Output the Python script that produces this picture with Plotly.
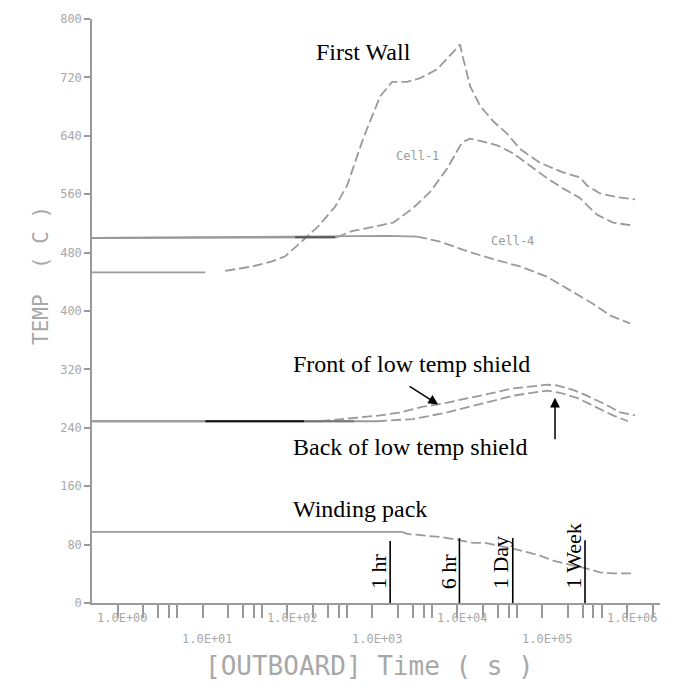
import math
import plotly.graph_objects as go

# ---------------- data ----------------
time_first_wall = [0.5, 10.8, 18.5, 38.5, 66, 94, 134, 230, 364, 504, 777, 1232, 1706, 2560,
                   3640, 5770, 10760, 11360, 14100, 18500, 26300, 38400, 54600, 94000,
                   175000, 277000, 335000, 477000, 757000, 1233000]
temp_first_wall = [453, 453, 455, 461, 468, 475, 491, 516, 543, 572, 636, 694, 714, 714,
                   719, 731, 765, 752, 708, 681, 660, 643, 622, 603,
                   590, 583, 572, 561, 556, 553]

time_cell1 = [0.5, 380, 560, 1754, 3010, 4770, 7560, 11360, 14100, 18500, 29300, 45200,
              71600, 113500, 175000, 277000, 335000, 440000, 679000, 1167000]
temp_cell1 = [500, 501, 509, 521, 541, 563, 595, 631, 636, 633, 627, 616,
              599, 582, 568, 555, 545, 532, 521, 517]

time_cell4 = [0.5, 500, 1500, 3360, 6250, 13000, 26300, 54700, 113500, 229600, 394000,
              625000, 1076000]
temp_cell4 = [500, 502, 503, 502, 495, 482, 471, 461, 447, 426, 410, 394, 383]

time_front_shield = [0.5, 243, 609, 1232, 2120, 3950, 5930, 11700, 22300, 45200, 86600,
                     113500, 149000, 229600, 335000, 577000, 820000, 1233000]
temp_front_shield = [249, 249, 254, 257, 261, 269, 272, 279, 286, 294, 298,
                     299, 298, 292, 284, 271, 261, 257]

time_back_shield = [0.5, 1135, 3010, 7560, 18500, 45200, 113500, 161000, 256000, 440000,
                    679000, 1019000]
temp_back_shield = [249, 249, 252, 261, 272, 284, 291, 288, 281, 268, 257, 249]

time_winding = [0.5, 2230, 2560, 4400, 6250, 9900, 15300, 21200, 50400, 94000, 134000,
                335000, 477000, 679000, 1167000]
temp_winding = [97.5, 97.5, 94.7, 92, 90.6, 86.6, 82.5, 82.5, 73, 65, 58, 47, 42, 40.6, 40.6]

# darker stretches where several curves overlap in the reference
overlap_times = [[10.8, 157], [157, 609], [123, 364]]
overlap_temps = [249, 249, 501]
overlap_colors = ["#111111", "#777777", "#555555"]

marker_labels = ["1 hr", "6 hr", "1 Day", "1 Week"]
marker_times = [1616, 10570, 44860, 318000]      # where the marker lines are drawn
marker_tops = [85, 89, 89, 86]

y_ticks = [0, 80, 160, 240, 320, 400, 480, 560, 640, 720, 800]
x_decades = [0, 1, 2, 3, 4, 5, 6]
x_tick_labels = ["1.0E+00", "1.0E+01", "1.0E+02", "1.0E+03", "1.0E+04", "1.0E+05", "1.0E+06"]
x_minor_mult = [1, 2, 3, 4, 5]

# ---------------- styling ----------------
GRAY = "#9a9a9a"
LIGHT = "#a8a8a8"
SERIF = "Liberation Serif, Times New Roman, serif"
MONO = "DejaVu Sans Mono, monospace"
DASH = "10px,4px"

fig = go.Figure()

# (name, t, T, last index of solid part, first index of dashed part)
series = [
    ("First Wall", time_first_wall, temp_first_wall, 1, 2),
    ("Cell-1", time_cell1, temp_cell1, 1, 1),
    ("Cell-4", time_cell4, temp_cell4, 3, 3),
    ("Front of low temp shield", time_front_shield, temp_front_shield, 1, 1),
    ("Back of low temp shield", time_back_shield, temp_back_shield, 1, 1),
    ("Winding pack", time_winding, temp_winding, 1, 1),
]
for name, t, T, solid_end, dash_start in series:
    fig.add_trace(go.Scatter(x=t[:solid_end + 1], y=T[:solid_end + 1], mode="lines",
                             line=dict(color=GRAY, width=1.8), name=name,
                             showlegend=False, hoverinfo="skip"))
    fig.add_trace(go.Scatter(x=t[dash_start:], y=T[dash_start:], mode="lines",
                             line=dict(color=GRAY, width=1.8, dash=DASH), name=name,
                             showlegend=False))

for ts, tv, col in zip(overlap_times, overlap_temps, overlap_colors):
    fig.add_trace(go.Scatter(x=ts, y=[tv, tv], mode="lines", line=dict(color=col, width=2),
                             showlegend=False, hoverinfo="skip"))

# time marker lines
for lab, tm, top in zip(marker_labels, marker_times, marker_tops):
    fig.add_trace(go.Scatter(x=[tm, tm], y=[0, top], mode="lines",
                             line=dict(color="black", width=1.6),
                             showlegend=False, hoverinfo="skip"))
    fig.add_annotation(x=math.log10(tm), y=16, xref="x", yref="y", text=lab,
                       textangle=-90, showarrow=False, xanchor="right", yanchor="bottom",
                       xshift=3, font=dict(family=SERIF, size=22, color="black"))

# curve labels
labels = [
    ("First Wall", 780, 755, SERIF, 24, "black"),
    ("Front of low temp shield", 2850, 328, SERIF, 24, "black"),
    ("Back of low temp shield", 2820, 214, SERIF, 24, "black"),
    ("Winding pack", 708, 129, SERIF, 24, "black"),
    ("Cell-1", 3360, 612, MONO, 12, GRAY),
    ("Cell-4", 44000, 496, MONO, 12, GRAY),
]
for txt, xt, yt, fam, sz, col in labels:
    fig.add_annotation(x=math.log10(xt), y=yt, xref="x", yref="y", text=txt,
                       showarrow=False, font=dict(family=fam, size=sz, color=col))

# arrows
fig.add_annotation(x=math.log10(5930), y=272, xref="x", yref="y", text="", showarrow=True,
                   arrowhead=2, arrowsize=1.3, arrowwidth=1.5, arrowcolor="black",
                   ax=-30, ay=-19, standoff=0)
fig.add_annotation(x=math.log10(141000), y=281, xref="x", yref="y", text="", showarrow=True,
                   arrowhead=2, arrowsize=1.3, arrowwidth=1.5, arrowcolor="black",
                   ax=0, ay=43, standoff=0)

# staggered x tick labels
for i, (d, lab) in enumerate(zip(x_decades, x_tick_labels)):
    fig.add_annotation(x=d, y=0, xref="x", yref="paper", text=lab, showarrow=False,
                       xshift=5, yshift=-24 if i % 2 == 0 else -45,
                       font=dict(family=MONO, size=12, color=LIGHT))

# axis titles
fig.add_annotation(x=0, y=0.56, xref="paper", yref="paper", text="TEMP  ( C )",
                   textangle=-90, showarrow=False, xshift=-65,
                   font=dict(family=MONO, size=21, color=LIGHT))
fig.add_annotation(x=0.489, y=0, xref="paper", yref="paper", text="[OUTBOARD] Time ( s )",
                   showarrow=False, yshift=-80,
                   font=dict(family=MONO, size=26, color=LIGHT))

x_tickvals = [m * 10 ** d for d in x_decades for m in x_minor_mult] + [2e6]

fig.update_xaxes(type="log", range=[math.log10(0.5), 6.385], showline=True,
                 linecolor=GRAY, linewidth=1.5, ticks="outside", ticklen=13,
                 tickwidth=1.5, tickcolor=GRAY, tickvals=x_tickvals,
                 showticklabels=False, showgrid=False, zeroline=False)
fig.update_yaxes(range=[0, 800], showline=True, linecolor=GRAY, linewidth=1.5,
                 ticks="outside", ticklen=6, tickwidth=1.5, tickcolor=GRAY,
                 tickvals=y_ticks, ticktext=[str(v) for v in y_ticks],
                 tickfont=dict(family=MONO, size=12, color=LIGHT),
                 ticklabeloverflow="allow",
                 showgrid=False, zeroline=False)

# page body adds an 8px offset, so the figure is sized to fit inside the window
fig.update_layout(width=665, height=688, margin=dict(l=84, r=13, t=4, b=93),
                  plot_bgcolor="white", paper_bgcolor="white", showlegend=False)

fig.write_html("out.html")
